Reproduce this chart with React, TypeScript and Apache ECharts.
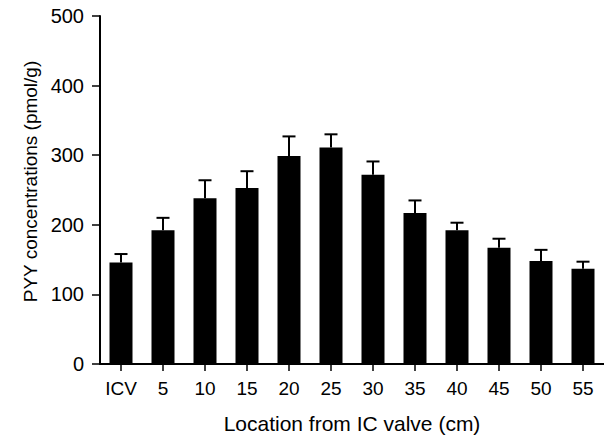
import React, { useEffect, useRef } from "react";
import * as echarts from "echarts";

const categories = ["ICV", "5", "10", "15", "20", "25", "30", "35", "40", "45", "50", "55"];
const meanValues = [146, 192, 238, 253, 299, 311, 272, 217, 192, 167, 148, 137];
const errorTops = [158, 210, 264, 277, 327, 330, 291, 235, 203, 180, 164, 147];
const yTicks = { min: 0, max: 500, interval: 100 };
const xTitle = "Location from IC valve (cm)";
const yTitle = "PYY concentrations (pmol/g)";

const FONT = "'Liberation Sans', Arial, sans-serif";

export default function App() {
  const ref = useRef<HTMLDivElement>(null);
  useEffect(() => {
    if (!ref.current) return;
    const chart = echarts.init(ref.current, undefined, { renderer: "svg" });
    const errData = categories.map((_, i) => [i, meanValues[i], errorTops[i]]);
    chart.setOption({
      animation: false,
      backgroundColor: "#ffffff",
      grid: { left: 100, right: 0, top: 16, bottom: 70.5, containLabel: false },
      xAxis: {
        type: "category",
        data: categories,
        name: xTitle,
        nameLocation: "middle",
        nameGap: 49,
        nameTextStyle: { fontSize: 21, color: "#000", fontFamily: FONT },
        axisLine: { show: true, lineStyle: { color: "#000", width: 2 } },
        axisTick: { show: true, alignWithLabel: true, length: 7, lineStyle: { color: "#000", width: 1.5 } },
        axisLabel: { fontSize: 19, color: "#000", fontFamily: FONT, margin: 15 },
        splitLine: { show: false },
      },
      yAxis: {
        type: "value",
        min: yTicks.min,
        max: yTicks.max,
        interval: yTicks.interval,
        name: yTitle,
        nameLocation: "middle",
        nameGap: 59,
        nameTextStyle: { fontSize: 19, color: "#000", fontFamily: FONT, padding: [0, 0, 0, 17] },
        axisLine: { show: true, lineStyle: { color: "#000", width: 2 } },
        axisTick: { show: true, length: 8, lineStyle: { color: "#000", width: 1.5 } },
        axisLabel: { fontSize: 20, color: "#000", fontFamily: FONT, margin: 16 },
        splitLine: { show: false },
      },
      series: [
        {
          type: "bar",
          data: meanValues,
          barWidth: 23,
          itemStyle: { color: "#000" },
          silent: true,
        },
        {
          type: "custom",
          data: errData,
          encode: { x: 0, y: [1, 2] },
          z: 3,
          silent: true,
          renderItem: (params: any, api: any) => {
            const idx = api.value(0);
            const base = api.coord([idx, api.value(1)]);
            const top = api.coord([idx, api.value(2)]);
            const half = 6.5;
            const style = { stroke: "#000", lineWidth: 2 };
            return {
              type: "group",
              children: [
                { type: "line", shape: { x1: base[0], y1: base[1], x2: top[0], y2: top[1] }, style },
                { type: "line", shape: { x1: top[0] - half, y1: top[1], x2: top[0] + half, y2: top[1] }, style },
              ],
            };
          },
        },
      ],
    });
    return () => chart.dispose();
  }, []);
  return (
    <div
      ref={ref}
      style={{ position: "absolute", left: 0, top: 0, width: 604, height: 439 }}
    />
  );
}
